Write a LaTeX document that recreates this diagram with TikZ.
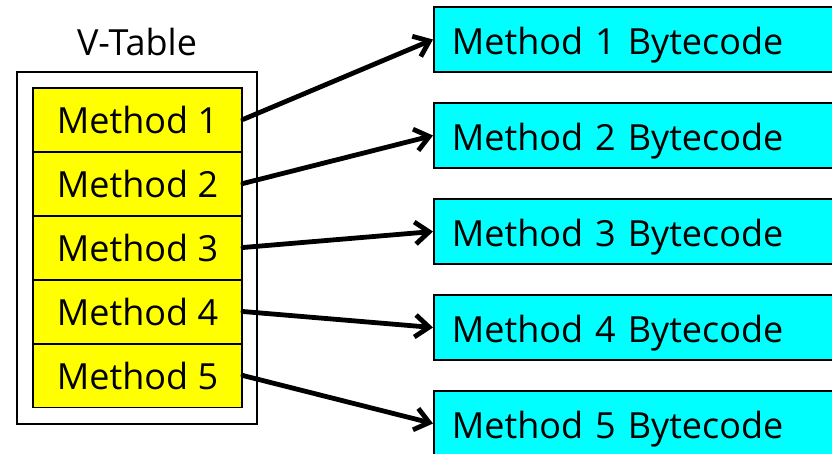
\documentclass[tikz,border=0pt]{standalone}
\usepackage{fontspec}
\setmainfont{Open Sans}
\usetikzlibrary{arrows.meta}
\definecolor{cellyellow}{RGB}{255,255,0}
\definecolor{boxcyan}{RGB}{0,255,255}
\newcommand{\bctext}[1]{\hspace*{13pt}\raisebox{-15pt}[0pt][0pt]{#1}}
\begin{document}
\begin{tikzpicture}[x=1pt,y=-1pt,
  lbl/.style={font=\fontsize{36}{40}\selectfont},
  cell/.style={draw, line width=1.8pt, fill=cellyellow, minimum width=209pt, minimum height=63.8pt, inner sep=0pt, lbl},
  bc/.style={draw, line width=1.8pt, fill=boxcyan, minimum width=420pt, minimum height=65pt, inner sep=0pt, anchor=west, text width=410pt, align=left, lbl},
  arr/.style={line width=4.8pt, line cap=round, -{Straight Barb[length=14pt,width=22pt,line width=4.8pt]}}]
\path[use as bounding box] (0,0) rectangle (832,453);
\clip (0,0) rectangle (832,453);
\fill[white] (0,0) rectangle (832,453);
% outer V-Table frame
\node[draw, line width=1.8pt, minimum width=240pt, minimum height=352pt, inner sep=0pt] (frame) at (137,248) {};
\node[lbl] (title) at (137,42) {V-Table};
% cells
\node[cell] (m1) at (137.5,119.5) {Method 1};
\node[cell] (m2) at (137.5,183.5) {Method 2};
\node[cell] (m3) at (137.5,247.5) {Method 3};
\node[cell] (m4) at (137.5,311.5) {Method 4};
\node[cell] (m5) at (137.5,375.5) {Method 5};
% bytecode boxes
\node[bc] (b1) at (433,39.5) {\bctext{Method 1 Bytecode}};
\node[bc] (b2) at (433,135.5) {\bctext{Method 2 Bytecode}};
\node[bc] (b3) at (433,231.5) {\bctext{Method 3 Bytecode}};
\node[bc] (b4) at (433,327.5) {\bctext{Method 4 Bytecode}};
\node[bc] (b5) at (433,423.5) {\bctext{Method 5 Bytecode}};
% arrows
\draw[arr] (m1.east) -- (b1.west);
\draw[arr] (m2.east) -- (b2.west);
\draw[arr] (m3.east) -- (b3.west);
\draw[arr] (m4.east) -- (b4.west);
\draw[arr] (m5.east) -- (b5.west);
\end{tikzpicture}
\end{document}
